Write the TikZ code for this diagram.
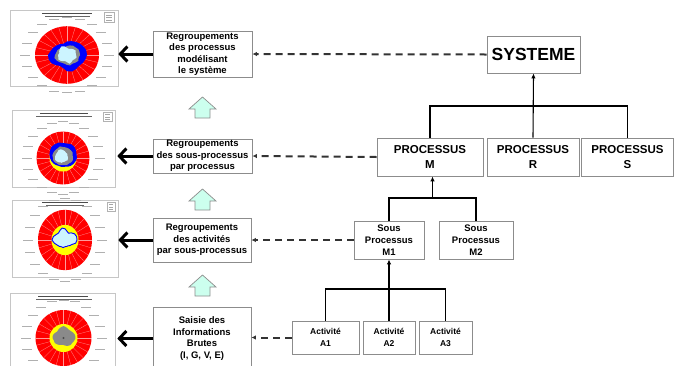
\documentclass[tikz,border=0pt]{standalone}
\usepackage{fontspec}
\setmainfont{Liberation Sans}
\usetikzlibrary{arrows.meta,calc}
\definecolor{mint}{HTML}{CCFFEE}
\definecolor{palecyan}{HTML}{CCF4FF}
\definecolor{dashgray}{HTML}{333333}
\definecolor{boxgray}{HTML}{8C8C8C}
\definecolor{chartred}{HTML}{FF0000}
\definecolor{chartblue}{HTML}{0000FF}
\definecolor{chartyellow}{HTML}{FFFF00}
\definecolor{chartgray}{HTML}{8A8A8A}
\definecolor{labgray}{HTML}{B0B0B0}
\newcommand\RadarBase[1]{%
  \fill[chartred] (0,0) circle (#1);
  \foreach \a in {0,15,...,345} \draw[white, opacity=0.6, line width=0.25pt] (0,0) -- (\a:#1);
  \foreach \a in {0,18,...,342} \fill[labgray] ($(\a:{#1+10})+(-5,-0.45)$) rectangle ++(10,0.9);
}
\begin{document}
\begin{tikzpicture}[x=1pt,y=-1pt,
  box/.style={draw=boxgray, line width=0.8pt, fill=white, align=center, inner sep=0pt,
    font=\bfseries\fontsize{9.5}{11.5}\selectfont},
  procbox/.style={box, font=\bfseries\fontsize{11.5}{15}\selectfont},
  sousbox/.style={box, font=\bfseries\fontsize{9.5}{11.7}\selectfont},
  actbox/.style={box, font=\bfseries\fontsize{8.5}{11.3}\selectfont},
  chart/.style={draw=gray!45, line width=0.6pt, fill=white, inner sep=0pt},
  conn/.style={line width=1.1pt, black},
  uparrow/.style={conn, -{Latex[length=5pt,width=4.5pt]}},
  dashln/.style={line width=2pt, dashgray, dash pattern=on 7pt off 5pt, -{Latex[length=4.5pt,width=4.5pt]}},
  bigarrow/.style={line width=3pt, black, -{Straight Barb[length=7pt,width=15pt]}},
  blockup/.pic={\draw[boxgray, fill=mint, line width=0.7pt] (0,0) -- (13.5,12) -- (7.5,12) -- (7.5,21) -- (-7.5,21) -- (-7.5,12) -- (-13.5,12) -- cycle;}
]
\useasboundingbox (0,0) rectangle (674,365);

% ---------- chart frames ----------
\node[chart, minimum width=108pt, minimum height=76pt] (ch1) at (64,48) {};
\node[chart, minimum width=103pt, minimum height=77pt] (ch2) at (63.5,148.5) {};
\node[chart, minimum width=106pt, minimum height=77pt] (ch3) at (65,238.5) {};
\node[chart, minimum width=105pt, minimum height=76pt] (ch4) at (62.5,331) {};

% ---------- chart 1 ----------
\fill[black!70] (42,13) rectangle (92,14.2);
\fill[black!60] (45,16) rectangle (90,17.2);
\draw[gray!60, line width=0.3pt] (104,12) rectangle (114,22);
\foreach \yy in {14.5,17,19.5} \fill[gray!70] (106,\yy) rectangle (112,\yy+0.8);
\begin{scope}[shift={(67,55)}, yscale=0.9]
  \RadarBase{32}
  \fill[chartblue] (0:20) \foreach \r [count=\i] in {19,18,17,18,19,18,15,14,16,18,19,19,17,16,15,14,13,15,16,17,18,19,20} {-- (\i*15:\r)} -- cycle;
  \fill[chartgray] (0:13) \foreach \r [count=\i] in {12,13,12,11,12,11,10,10,11,12,13,12,11,11,10,10,9,10,11,12,12,13,13} {-- (\i*15:\r)} -- cycle;
  \fill[palecyan] (0:9) \foreach \r [count=\i] in {10,9,8,9,10,8,7,8,9,10,9,9,8,9,10,11,10,8,7,8,9,10,9} {-- (\i*15:\r)} -- cycle;
\end{scope}

% ---------- chart 2 ----------
\fill[black!70] (40,113) rectangle (88,114.2);
\fill[black!60] (36,116) rectangle (92,117.2);
\draw[gray!60, line width=0.3pt] (103,112) rectangle (112,121);
\foreach \yy in {114,116.5,119} \fill[gray!70] (105,\yy) rectangle (110,\yy+0.8);
\begin{scope}[shift={(63,158)}]
  \RadarBase{26.5}
  \fill[chartyellow] (0,0) circle (13.5);
  \fill[chartblue] (0:14) \foreach \r [count=\i] in {13,12,11,10,9,9,9,9,10,11,12,13,14,15,16,16,16,15,15,16,16,15,14} {-- (\i*15:\r)} -- cycle;
  \fill[chartgray] (0:10) \foreach \r [count=\i] in {10,9,8,8,7,7,7,8,8,9,10,10,11,11,11,11,12,11,11,11,11,11,10} {-- (\i*15:\r)} -- cycle;
  \fill[palecyan] (0:5) \foreach \r [count=\i] in {5,5,4,4,4,4,5,5,6,7,8,8,8,8,8,9,9,8,7,6,6,5,5} {-- (\i*15:\r)} -- cycle;
\end{scope}

% ---------- chart 3 ----------
\fill[black!70] (42,202) rectangle (88,203.2);
\fill[black!60] (46,205) rectangle (84,206.2);
\draw[gray!60, line width=0.3pt] (107,202) rectangle (115,211);
\foreach \yy in {204,206.5,209} \fill[gray!70] (109,\yy) rectangle (113,\yy+0.8);
\begin{scope}[shift={(65,240)}, yscale=1.12]
  \RadarBase{27}
  \fill[chartyellow] (0,0) circle (13.5);
  \filldraw[fill=palecyan, draw=chartblue, line width=0.9pt] (0:12) \foreach \r [count=\i] in {11,8,7,6,6,6,7,7,8,9,11,13,12,10,9,10,11,10,8,7,9,11,12} {-- (\i*15:\r)} -- cycle;
\end{scope}

% ---------- chart 4 ----------
\fill[black!70] (38,296) rectangle (88,297.2);
\fill[black!60] (36,299) rectangle (92,300.2);
\begin{scope}[shift={(63.5,338)}]
  \RadarBase{28}
  \fill[chartyellow] (0,0) circle (14);
  \fill[chartgray] (0:12) \foreach \r [count=\i] in {11,10,10,9,8,7,7,8,9,10,10,11,11,10,9,10,11,12,11,10,10,11,12} {-- (\i*15:\r)} -- cycle;
  \fill[black!70] (0,0) circle (1.2);
\end{scope}

% ---------- left boxes ----------
\node[box, minimum width=99pt, minimum height=46pt] (b1) at (202.5,54) {Regroupements\\des processus\\modélisant\\le système};
\node[box, minimum width=99pt, minimum height=34pt] (b2) at (202.5,156) {Regroupements\\des sous-processus\\par processus};
\node[box, minimum width=98pt, minimum height=44pt] (b3) at (202,240) {Regroupements\\des activités\\par sous-processus};
\node[box, minimum width=98pt, minimum height=63pt] (b4) at (202,338.5) {Saisie des\\Informations\\Brutes\\(I, G, V, E)};

% block arrows
\pic at (202.5,97) {blockup};
\pic at (202.5,189) {blockup};
\pic at (202.5,275) {blockup};

% thick arrows to charts
\draw[bigarrow] (b1.west) -- (b1.west -| ch1.east);
\draw[bigarrow] (b2.west) -- ($(b2.west -| ch2.east)+(2,0)$);
\draw[bigarrow] (b3.west) -- (b3.west -| ch3.east);
\draw[bigarrow] (b4.west) -- ($(b4.west -| ch4.east)+(2,0)$);

% ---------- right tree ----------
\node[box, minimum width=93pt, minimum height=37pt, font=\bfseries\fontsize{17.5}{20}\selectfont] (sys) at (533.5,54.5) {SYSTEME};
\node[procbox, minimum width=106pt, minimum height=38pt] (pm) at (430,157) {PROCESSUS\\M};
\node[procbox, minimum width=92pt, minimum height=38pt] (pr) at (533,157) {PROCESSUS\\R};
\node[procbox, minimum width=92pt, minimum height=38pt] (ps) at (627.5,157) {PROCESSUS\\S};
\node[sousbox, minimum width=70pt, minimum height=38pt] (m1) at (389,240) {Sous\\Processus\\M1};
\node[sousbox, minimum width=74pt, minimum height=38pt] (m2) at (476,240) {Sous\\Processus\\M2};
\node[actbox, minimum width=67pt, minimum height=33pt] (a1) at (325.5,337.5) {Activité\\A1};
\node[actbox, minimum width=52pt, minimum height=33pt] (a2) at (389,337.5) {Activité\\A2};
\node[actbox, minimum width=53pt, minimum height=33pt] (a3) at (445.5,337.5) {Activité\\A3};

\coordinate (j1) at (533,106);
\coordinate (j2) at (432.5,198);
\coordinate (j3) at (389,289);

\draw[conn] (pm.north) |- (j1) -| (ps.north);
\draw[uparrow] (pr.north) -- (sys.south);
\draw[conn] (m1.north) |- (j2) -| (m2.north);
\draw[uparrow] (j2) -- (j2 |- pm.south);
\draw[conn] (a1.north) |- (j3) -| (a3.north);
\draw[uparrow] (a2.north) -- (m1.south);

% dashed links
\draw[dashln] (sys.west) -- (b1.east);
\draw[dashln] (pm.west) -- (b2.east);
\draw[dashln] (m1.west) -- (b3.east);
\draw[dashln] (a1.west) -- (b4.east |- a1.west);
\end{tikzpicture}
\end{document}
